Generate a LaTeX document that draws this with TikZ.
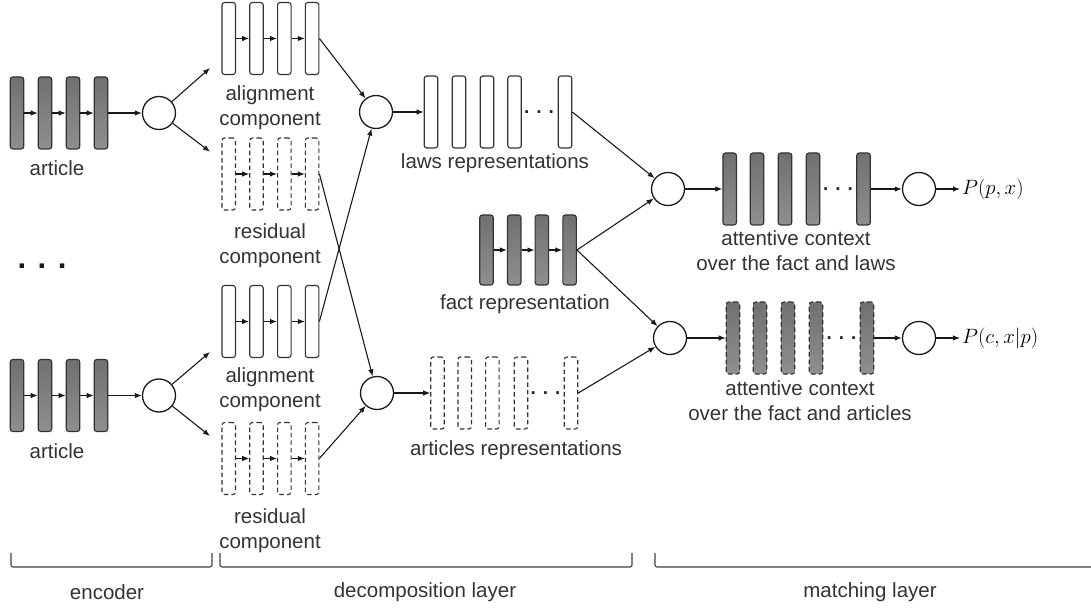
\documentclass[tikz,border=0pt]{standalone}
\usepackage{fontspec}
\setmainfont{Liberation Sans}
\usetikzlibrary{arrows.meta,positioning}

\begin{document}
\begin{tikzpicture}[x=1pt, y=-1pt,
  font=\fontsize{20.5}{25}\selectfont,
  lbl/.style={align=center, text=black!80, inner sep=0pt},
  gap/.style={inner sep=0pt, text=black!85, font=\fontsize{19}{19}\selectfont\bfseries},
  bar/.style={rectangle, rounded corners=2.5pt, minimum width=13.5pt,
              minimum height=72pt, inner sep=0pt, line width=1.1pt, draw=black!80},
  gbar/.style={bar, top color=black!56, bottom color=black!44},
  wbar/.style={bar, fill=white},
  dbar/.style={wbar, dash pattern=on 4.5pt off 3pt},
  gdbar/.style={gbar, dash pattern=on 4.5pt off 3pt},
  op/.style={circle, draw=black!90, fill=white, line width=1.3pt,
             minimum size=33pt, inner sep=0pt},
  arr/.style={-{Latex[length=7pt,width=5.5pt]}, line width=1.1pt, draw=black!90},
  brace/.style={draw=black!75, line width=1.1pt, rounded corners=2pt}
]
\useasboundingbox (0,0) rectangle (1091,609);

% encoder
\foreach \n/\y in {encA/113, encB/395.5} {
  \foreach \i in {1,...,4}
    \node[gbar] (\n\i) at ({17+28*(\i-1)},\y) {};
  \foreach \i/\j in {1/2,2/3,3/4}
    \draw[arr] (\n\i) -- (\n\j);
}
\node[op] (encAo) at (159,113) {};
\node[op] (encBo) at (159,395.5) {};
\draw[arr] (encA4) -- (encAo);
\draw[arr] (encB4) -- (encBo);
\node[lbl] (artAl) at (57,168) {article};
\node[lbl] (artBl) at (57,451) {article};
\node[lbl, text=black!90, font=\fontsize{31}{31}\selectfont\bfseries] (vdots) at (42,266) {. . .};

% decomposition
\foreach \n/\s/\y in {alnA/wbar/38.5, resA/dbar/174, alnB/wbar/321.5, resB/dbar/458.5} {
  \foreach \i in {1,...,4}
    \node[\s] (\n\i) at ({228.7+27.8*(\i-1)},\y) {};
  \foreach \i/\j in {1/2,2/3,3/4}
    \draw[arr] (\n\i) -- (\n\j);
}
\node[lbl] (alnAl) at (270,107.5) {alignment\\component};
\node[lbl] (resAl) at (270,246) {residual\\component};
\node[lbl] (alnBl) at (270,390) {alignment\\component};
\node[lbl] (resBl) at (270,530.5) {residual\\component};

\coordinate (tA1) at (210,68);
\coordinate (tA2) at (210,151.7);
\coordinate (tB1) at (210,352);
\coordinate (tB2) at (210,436);
\draw[arr] (encAo) -- (tA1);
\draw[arr] (encAo) -- (tA2);
\draw[arr] (encBo) -- (tB1);
\draw[arr] (encBo) -- (tB2);

\node[op] (decA) at (376,112) {};
\node[op] (decB) at (377,393) {};
\draw[arr] (alnA4.east) -- (decA);
\draw[arr] (alnB4.east) -- (decA);
\draw[arr] (resA4.east) -- (decB);
\draw[arr] (resB4.east) -- (decB);

\foreach \i/\x in {1/431,2/459,3/487,4/514.5,5/565}
  \node[wbar] (law\i) at (\x,112) {};
\node[gap] (lawdots) at (539,112) {. . .};
\node[lbl] (lawl) at (495,163) {laws representations};

\foreach \i in {1,...,4}
  \node[gbar, minimum height=70pt] (fact\i) at ({486.5+27.7*(\i-1)},250) {};
\foreach \i/\j in {1/2,2/3,3/4}
  \draw[arr] (fact\i) -- (fact\j);
\node[lbl] (factl) at (525,304) {fact representation};

\foreach \i/\x in {1/437.5,2/464.7,3/492.3,4/521,5/571}
  \node[dbar] (art\i) at (\x,393) {};
\node[gap] (artdots) at (545.5,393) {. . .};
\node[lbl] (artl) at (516,450) {articles representations};

\draw[arr] (decA) -- (law1);
\draw[arr] (decB) -- (art1);

% matching
\node[op] (matA) at (668,189) {};
\node[op] (matB) at (670,338) {};
\draw[arr] (law5.east) -- (matA);
\draw[arr] (fact4.east) -- (matA);
\draw[arr] (fact4.east) -- (matB);
\draw[arr] (art5.east) -- (matB);

\foreach \i/\x in {1/729.7,2/757,3/785,4/813,5/863.5}
  \node[gbar] (ctxA\i) at (\x,189) {};
\node[gap] (ctxAdots) at (838,189) {. . .};
\foreach \i/\x in {1/733,2/760,3/788,4/816,5/867}
  \node[gdbar] (ctxB\i) at (\x,338) {};
\node[gap] (ctxBdots) at (841.5,338) {. . .};
\node[lbl] (ctxAl) at (796,250.5) {attentive context\\over the fact and laws};
\node[lbl] (ctxBl) at (800,401) {attentive context\\over the fact and articles};

\node[op] (outA) at (919,189) {};
\node[op] (outB) at (919,338) {};
\node[lbl, text=black, anchor=west, inner sep=2pt, font=\fontsize{22}{22}\selectfont] (pA) at (960,189) {$P(p,x)$};
\node[lbl, text=black, anchor=west, inner sep=2pt, font=\fontsize{22}{22}\selectfont] (pB) at (960,338) {$P(c,x|p)$};
\draw[arr] (matA) -- (ctxA1);
\draw[arr] (ctxA5) -- (outA);
\draw[arr] (outA) -- (pA);
\draw[arr] (matB) -- (ctxB1);
\draw[arr] (ctxB5) -- (outB);
\draw[arr] (outB) -- (pB);

% layers
\draw[brace] (11,553) |- (212,567) -- (212,553);
\draw[brace] (220,553) |- (632,567) -- (632,553);
\draw[brace] (655,553) |- (1091,567);
\node[lbl] (encl) at (107,592) {encoder};
\node[lbl] (decl) at (425,592) {decomposition layer};
\node[lbl] (matl) at (870,592) {matching layer};
\end{tikzpicture}
\end{document}
